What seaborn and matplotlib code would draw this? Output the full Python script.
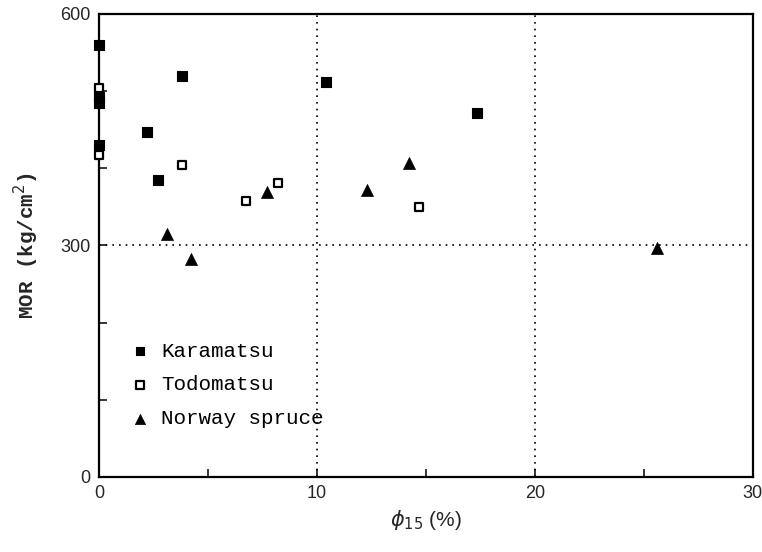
import matplotlib
matplotlib.use("Agg")
import matplotlib.pyplot as plt
import numpy as np
import pandas as pd
import seaborn as sns

# Karamatsu (filled squares)
kara_x = [0.0, 0.0, 0.0, 0.0, 2.2, 2.7, 3.8, 10.4, 17.35]
kara_y = [560, 492, 485, 430, 447, 385, 520, 512, 471]

# Todomatsu (open squares)
todo_x = [0.0, 0.0, 3.8, 6.75, 8.2, 14.7]
todo_y = [504, 417, 404, 358, 381, 350]

# Norway spruce (filled triangles)
spruce_x = [3.1, 4.2, 7.7, 12.3, 14.2, 25.6]
spruce_y = [315, 282, 369, 372, 407, 297]

x_major = [0, 10, 20, 30]
x_minor = [5, 15, 25]
y_major = [0, 300, 600]
y_minor = [100, 200, 400, 500]


def main():
    sns.set_style("ticks")
    plt.rcParams["font.family"] = ["Liberation Sans", "DejaVu Sans"]

    fig = plt.figure(figsize=(7.62, 5.52), dpi=100)
    ax = fig.add_axes([0.13, 0.136, 0.858, 0.839])

    for v in [10, 20]:
        ax.axvline(v, color="black", linestyle=(0, (1, 3)), linewidth=1.2, zorder=1)
    ax.axhline(300, color="black", linestyle=(0, (1, 3)), linewidth=1.2, zorder=1)

    df_k = pd.DataFrame({"x": kara_x, "y": kara_y})
    df_t = pd.DataFrame({"x": todo_x, "y": todo_y})
    df_s = pd.DataFrame({"x": spruce_x, "y": spruce_y})

    sns.scatterplot(data=df_k, x="x", y="y", ax=ax, marker="s", s=55,
                    color="black", edgecolor="black", linewidth=0.8,
                    label="Karamatsu", clip_on=False, zorder=3)
    sns.scatterplot(data=df_t, x="x", y="y", ax=ax, marker="s", s=40,
                    facecolor="white", edgecolor="black", linewidth=1.6,
                    label="Todomatsu", clip_on=False, zorder=3)
    sns.scatterplot(data=df_s, x="x", y="y", ax=ax, marker="^", s=75,
                    color="black", edgecolor="black", linewidth=0.5,
                    label="Norway spruce", clip_on=False, zorder=3)

    ax.set_xlim(0, 30)
    ax.set_ylim(0, 600)
    ax.set_xticks(x_major)
    ax.set_xticks(x_minor, minor=True)
    ax.set_yticks(y_major)
    ax.set_yticks(y_minor, minor=True)
    ax.tick_params(which="both", direction="in", length=6, width=1.3,
                   labelsize=13, pad=6)

    for sp in ax.spines.values():
        sp.set_linewidth(1.6)
        sp.set_color("black")

    mono = ["Liberation Mono", "DejaVu Sans Mono"]
    ax.set_xlabel(r"$\phi_{15}$ (%)", fontsize=15, labelpad=4)
    ax.set_ylabel(r"MOR (kg/cm$^2$)", fontsize=15, labelpad=14,
                  fontdict={"family": mono, "weight": "bold"})

    leg = ax.legend(loc="lower left", bbox_to_anchor=(0.015, 0.065), frameon=False,
                    prop={"family": mono, "size": 15}, handletextpad=0.4,
                    labelspacing=0.7, handlelength=1.2, markerscale=0.85)
    for t in leg.get_texts():
        t.set_color("black")

    fig.savefig("out.png", dpi=100)
    plt.close(fig)


if __name__ == "__main__":
    main()
